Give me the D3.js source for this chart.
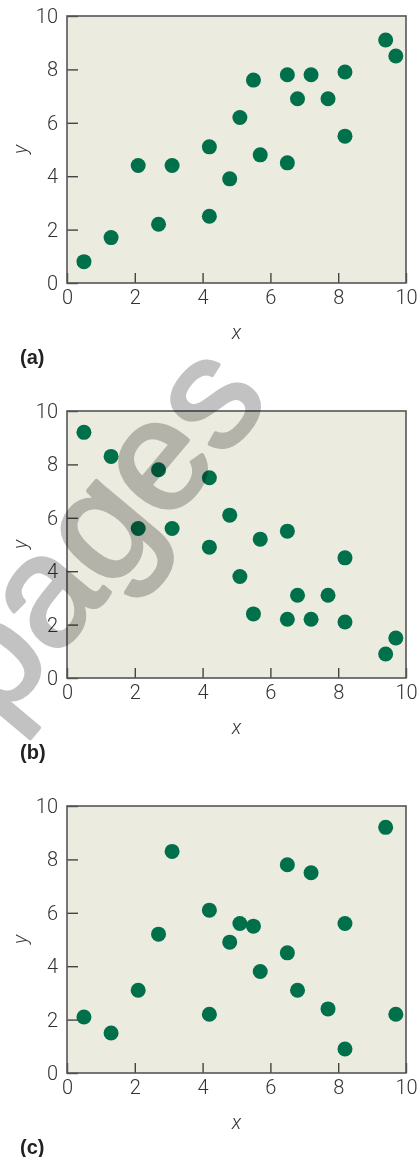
<!DOCTYPE html>
<html>
<head>
<meta charset="utf-8">
<script src="https://cdn.jsdelivr.net/npm/d3@7"></script>
<style>
  body { margin: 0; background: #fff; }
  .tick text { font-family: Roboto, "Liberation Sans", sans-serif; font-weight: 300; font-size: 20px; fill: #333; }
</style>
</head>
<body>
<svg id="chart"></svg>
<script>
// x values are the same in all three panels, only the y pairing changes
var xValues = [0.5, 1.3, 2.1, 2.7, 3.1, 4.2, 4.2, 4.8, 5.1, 5.5, 5.7, 6.5, 6.5, 6.8, 7.2, 7.7, 8.2, 8.2, 9.4, 9.7];
var yA = [0.8, 1.7, 4.4, 2.2, 4.4, 5.1, 2.5, 3.9, 6.2, 7.6, 4.8, 7.8, 4.5, 6.9, 7.8, 6.9, 7.9, 5.5, 9.1, 8.5];
var yB = [9.2, 8.3, 5.6, 7.8, 5.6, 7.5, 4.9, 6.1, 3.8, 2.4, 5.2, 5.5, 2.2, 3.1, 2.2, 3.1, 4.5, 2.1, 0.9, 1.5];
var yC = [2.1, 1.5, 3.1, 5.2, 8.3, 6.1, 2.2, 4.9, 5.6, 5.5, 3.8, 7.8, 4.5, 3.1, 7.5, 2.4, 5.6, 0.9, 9.2, 2.2];
var panelLabels = ["(a)", "(b)", "(c)"];
var tickValues = [0, 2, 4, 6, 8, 10];

var width = 417, height = 1157;
var plotLeft = 67, plotW = 339, plotH = 267;
var panelTops = [16, 411, 806];

var svg = d3.select("#chart").attr("width", width).attr("height", height);

var x = d3.scaleLinear().domain([0, 10]).range([0, plotW]);
var y = d3.scaleLinear().domain([0, 10]).range([plotH, 0]);

[yA, yB, yC].forEach(function(ys, p) {
  var g = svg.append("g").attr("transform", "translate(" + plotLeft + "," + panelTops[p] + ")");

  g.append("rect")
    .attr("width", plotW).attr("height", plotH)
    .attr("fill", "#ecebe0");

  var xAxis = g.append("g")
    .attr("transform", "translate(0," + plotH + ")")
    .call(d3.axisBottom(x).tickValues(tickValues).tickSize(-10).tickPadding(7));
  var yAxis = g.append("g")
    .call(d3.axisLeft(y).tickValues(tickValues).tickSize(-11).tickPadding(9));

  [xAxis, yAxis].forEach(function(a) {
    a.select(".domain").remove();
    a.selectAll(".tick line").attr("stroke", "#444").attr("stroke-width", 1.4);
  });

  g.append("rect")
    .attr("width", plotW).attr("height", plotH)
    .attr("fill", "none").attr("stroke", "#555").attr("stroke-width", 1.6);

  g.selectAll("circle")
    .data(ys)
    .enter().append("circle")
    .attr("cx", function(d, i) { return x(xValues[i]); })
    .attr("cy", function(d) { return y(d); })
    .attr("r", 7.5)
    .attr("fill", "#00704a");

  // axis titles
  g.append("text")
    .attr("x", plotW / 2).attr("y", plotH + 56)
    .attr("text-anchor", "middle")
    .style("font-family", "Roboto, 'Liberation Sans', sans-serif")
    .style("font-weight", 300).style("font-style", "italic")
    .style("font-size", "20px").attr("fill", "#333")
    .text("x");

  g.append("text")
    .attr("transform", "translate(-40," + (plotH / 2) + ") rotate(-90)")
    .attr("text-anchor", "middle")
    .style("font-family", "Roboto, 'Liberation Sans', sans-serif")
    .style("font-weight", 300).style("font-style", "italic")
    .style("font-size", "20px").attr("fill", "#333")
    .text("y");

  g.append("text")
    .attr("x", 20 - plotLeft).attr("y", plotH + 81)
    .style("font-family", "'Liberation Sans', Arial, sans-serif")
    .style("font-weight", "bold").style("font-size", "20px")
    .attr("fill", "#222")
    .text(panelLabels[p]);
});

// grey watermark laid over panel (b)
svg.append("text")
  .attr("transform", "translate(94,528) rotate(-50)")
  .attr("text-anchor", "middle")
  .attr("dominant-baseline", "central")
  .style("font-family", "'Liberation Sans', Arial, sans-serif")
  .style("font-size", "156px")
  .style("mix-blend-mode", "multiply")
  .attr("fill", "#c2c2c2")
  .attr("stroke", "#c2c2c2")
  .attr("stroke-width", 4)
  .attr("stroke-linejoin", "round")
  .text("pages");
</script>
</body>
</html>
